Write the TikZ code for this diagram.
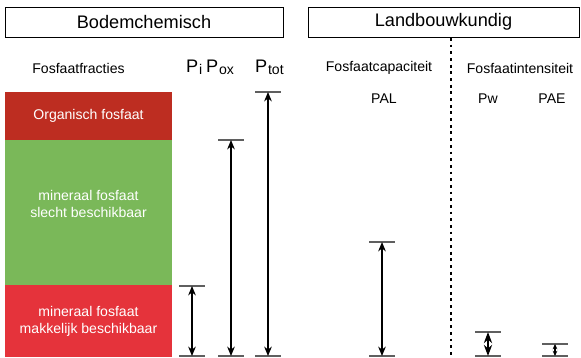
\documentclass[tikz,border=0pt]{standalone}
\usepackage{fontspec}
\setmainfont{Liberation Sans}
\usetikzlibrary{arrows.meta}
\definecolor{OrgRed}{RGB}{189, 45, 33}
\definecolor{SlechtGreen}{RGB}{122, 184, 89}
\definecolor{MakRed}{RGB}{229, 51, 59}
\definecolor{TickGrey}{RGB}{95, 95, 95}
\newcommand{\psub}[1]{P\kern0.6pt\raisebox{-2.4pt}{\fontsize{12}{14}\selectfont #1}}

\begin{document}
\begin{tikzpicture}[x=0.03cm, y=-0.03cm, every node/.style={inner sep=0pt},
    pijl/.style={line width=1.5pt, {Stealth[length=8pt,width=6.5pt]}-{Stealth[length=8pt,width=6.5pt]}},
    streep/.style={TickGrey, line width=0.9pt}]
            \useasboundingbox (0,0) rectangle (581,357);
            % Kopjes
            \node[draw, line width=0.6pt, minimum width=8.34cm, minimum height=0.9cm, font=\fontsize{15.5}{18}\selectfont] (bodem) at (144,22) {Bodemchemisch};
            \node[draw, line width=0.6pt, minimum width=8.13cm, minimum height=0.9cm, font=\fontsize{15.5}{18}\selectfont] (landbouw) at (443.5,22) {Landbouwkundig};
            \draw[line width=2.3pt, dash pattern=on 2.4pt off 3.3pt] (451,38) -- (451,357);
            
            % Kolomkoppen
            \node[font=\fontsize{12}{14}\selectfont] (fracties) at (78.5,68) {Fosfaatfracties};
            \node[anchor=base west, font=\fontsize{15.5}{17}\selectfont] (pi) at (186,72) {\psub{i}};
            \node[anchor=base west, font=\fontsize{15.5}{17}\selectfont] (pox) at (206,72) {\psub{ox}};
            \node[anchor=base west, font=\fontsize{15.5}{17}\selectfont] (ptot) at (255,72) {\psub{tot}};
            \node[font=\fontsize{12}{14}\selectfont] (capaciteit) at (379,68) {Fosfaatcapaciteit};
            \node[font=\fontsize{12}{14}\selectfont] (intensiteit) at (520,68) {Fosfaatintensiteit};
            \node[font=\fontsize{12}{14}\selectfont] (pal) at (384,99) {PAL};
            \node[font=\fontsize{12}{14}\selectfont] (pw) at (488,99) {Pw};
            \node[font=\fontsize{12}{14}\selectfont] (pae) at (552,99) {PAE};
            
            % Fracties
            \node[fill=OrgRed, minimum width=5.01cm, minimum height=1.44cm, text=white, font=\fontsize{12}{14}\selectfont] (organisch) at (88.5,116) {Organisch fosfaat};
            \node[fill=SlechtGreen, minimum width=5.01cm, minimum height=4.35cm] (slecht) at (88.5,212.5) {};
            \node[text=white, align=center, font=\fontsize{12}{14.5}\selectfont] (slechttekst) at (88.5,204) {mineraal fosfaat\\slecht beschikbaar};
            \node[fill=MakRed, minimum width=5.01cm, minimum height=2.16cm, text=white, align=center, font=\fontsize{12}{14.5}\selectfont] (makkelijk) at (88.5,321) {mineraal fosfaat\\makkelijk beschikbaar};
            
            % Eindpunten
            \coordinate (piT) at (192,286);   \coordinate (piB) at (192,356);
            \coordinate (poxT) at (231,140);  \coordinate (poxB) at (231,356);
            \coordinate (ptotT) at (268,92);  \coordinate (ptotB) at (268,356);
            \coordinate (palT) at (382,242);  \coordinate (palB) at (382,356);
            \coordinate (pwT) at (488,332);   \coordinate (pwB) at (488,356);
            \coordinate (paeT) at (555,344);  \coordinate (paeB) at (555,356);
            
            % Streepjes
            \foreach \p in {piT,piB,poxT,poxB,ptotT,ptotB,palT,palB,pwT,pwB,paeT,paeB}
                \draw[streep] ([xshift=-10.7pt]\p) -- ([xshift=10.7pt]\p);
            
            % Pijlen
            \draw[pijl] (piT) -- (piB);
            \draw[pijl] (poxT) -- (poxB);
            \draw[pijl] (ptotT) -- (ptotB);
            \draw[pijl] (palT) -- (palB);
            \draw[line width=1.5pt, {Stealth[length=9.5pt,width=7pt]}-{Stealth[length=9.5pt,width=7pt]}] (pwT) -- (pwB);
            \draw[line width=0.9pt, {Stealth[length=4.5pt,width=4pt]}-{Stealth[length=4.5pt,width=4pt]}] (paeT) -- (paeB);
        \end{tikzpicture}
\end{document}
